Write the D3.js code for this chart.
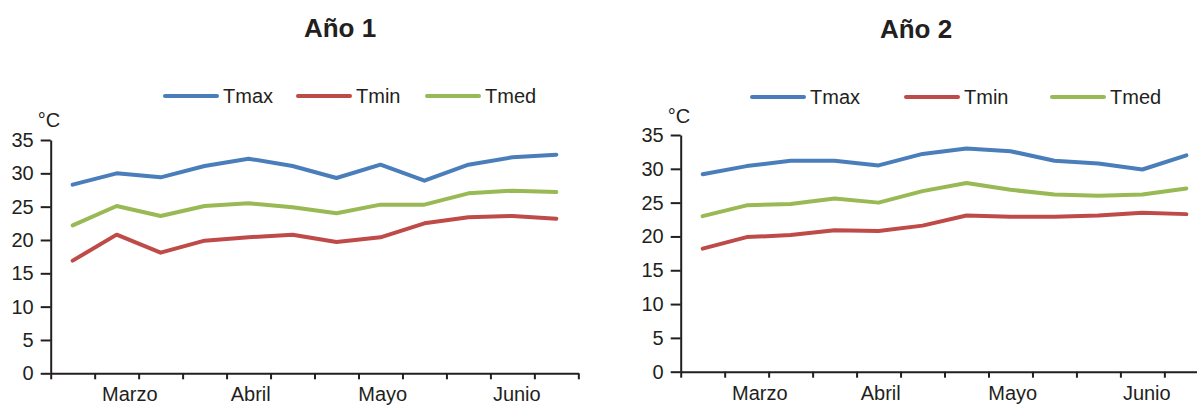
<!DOCTYPE html>
<html lang="es">
<head>
<meta charset="UTF-8">
<title>Temperaturas Año 1 y Año 2</title>
<style>
  body { margin: 0; background: #fff; }
  svg text { font-family: "Liberation Sans", Arial, sans-serif; fill: #231f20; }
  .axis path, .axis line { stroke: #231f20; stroke-width: 2; }
  .axis text { font-size: 20px; }
</style>
</head>
<body>
<svg id="chart" width="1197" height="407"></svg>
<script src="https://cdn.jsdelivr.net/npm/d3@7"></script>
<script>
// data (12 periods per year, mar-jun)
const months = ["Marzo", "Abril", "Mayo", "Junio"];
const monthPos = [1.8, 4.55, 7.55, 10.6];   // position of month label on the 12-period axis
const yTicks = [0, 5, 10, 15, 20, 25, 30, 35];
const seriesNames = ["Tmax", "Tmin", "Tmed"];
const seriesColors = ["#4a7ebb", "#be4b48", "#98b954"];

const tmax1 = [28.3, 30.0, 29.4, 31.1, 32.2, 31.1, 29.3, 31.3, 28.9, 31.3, 32.4, 32.8];
const tmin1 = [16.9, 20.8, 18.1, 19.9, 20.4, 20.8, 19.7, 20.4, 22.5, 23.4, 23.6, 23.2];
const tmed1 = [22.2, 25.1, 23.6, 25.1, 25.5, 24.9, 24.0, 25.3, 25.3, 27.0, 27.4, 27.2];

const tmax2 = [29.2, 30.4, 31.2, 31.2, 30.5, 32.2, 33.0, 32.6, 31.2, 30.8, 29.9, 32.0];
const tmin2 = [18.2, 19.9, 20.2, 20.9, 20.8, 21.6, 23.1, 22.9, 22.9, 23.1, 23.5, 23.3];
const tmed2 = [23.0, 24.6, 24.8, 25.6, 25.0, 26.7, 27.9, 26.9, 26.2, 26.0, 26.2, 27.1];

const svg = d3.select("#chart");

const panels = [
  { title: "Año 1", series: [tmax1, tmin1, tmed1], x0: 50.7, y0: 373.3, y35: 140,
    titleX: 340, titleY: 37, legendX: [165, 298, 427], legendY: 96, unitY: 127 },
  { title: "Año 2", series: [tmax2, tmin2, tmed2], x0: 680.7, y0: 371.7, y35: 135,
    titleX: 916, titleY: 38, legendX: [752, 906, 1052], legendY: 97, unitY: 123 }
];

panels.forEach(p => {
  const n = p.series[0].length;
  const x = d3.scaleLinear().domain([0, n]).range([p.x0, p.x0 + n * 43.97]);
  const y = d3.scaleLinear().domain([0, 35]).range([p.y0, p.y35]);

  svg.append("text")
    .attr("x", p.titleX).attr("y", p.titleY)
    .attr("text-anchor", "middle")
    .style("font-size", "26px").style("font-weight", "bold")
    .text(p.title);

  // legend
  seriesNames.forEach((name, i) => {
    const lx = p.legendX[i];
    svg.append("line")
      .attr("x1", lx).attr("x2", lx + 52)
      .attr("y1", p.legendY).attr("y2", p.legendY)
      .attr("stroke", seriesColors[i]).attr("stroke-width", 4)
      .attr("stroke-linecap", "round");
    svg.append("text")
      .attr("x", lx + 58).attr("y", p.legendY + 7)
      .style("font-size", "20px")
      .text(name);
  });

  svg.append("text")
    .attr("x", p.x0 - 13).attr("y", p.unitY)
    .style("font-size", "20px")
    .text("°C");

  // axes
  svg.append("g")
    .attr("class", "axis")
    .attr("transform", `translate(0,${p.y0})`)
    .call(d3.axisBottom(x).tickValues(d3.range(n + 1)).tickSize(6).tickSizeOuter(0).tickFormat(""));

  svg.append("g")
    .attr("class", "axis")
    .attr("transform", `translate(${p.x0},0)`)
    .call(d3.axisLeft(y).tickValues(yTicks).tickSize(10).tickSizeOuter(0).tickPadding(7));

  // month labels sit right at the bottom edge, as in the source
  svg.append("g")
    .selectAll("text")
    .data(months)
    .join("text")
    .attr("x", (d, i) => x(monthPos[i]))
    .attr("y", p.y0 + 28)
    .attr("text-anchor", "middle")
    .style("font-size", "20px")
    .text(d => d);

  const line = d3.line()
    .x((d, i) => x(i + 0.5))
    .y(d => y(d));

  p.series.forEach((s, i) => {
    svg.append("path")
      .datum(s)
      .attr("d", line)
      .attr("fill", "none")
      .attr("stroke", seriesColors[i])
      .attr("stroke-width", 4)
      .attr("stroke-linejoin", "round")
      .attr("stroke-linecap", "round");
  });
});
</script>
</body>
</html>
